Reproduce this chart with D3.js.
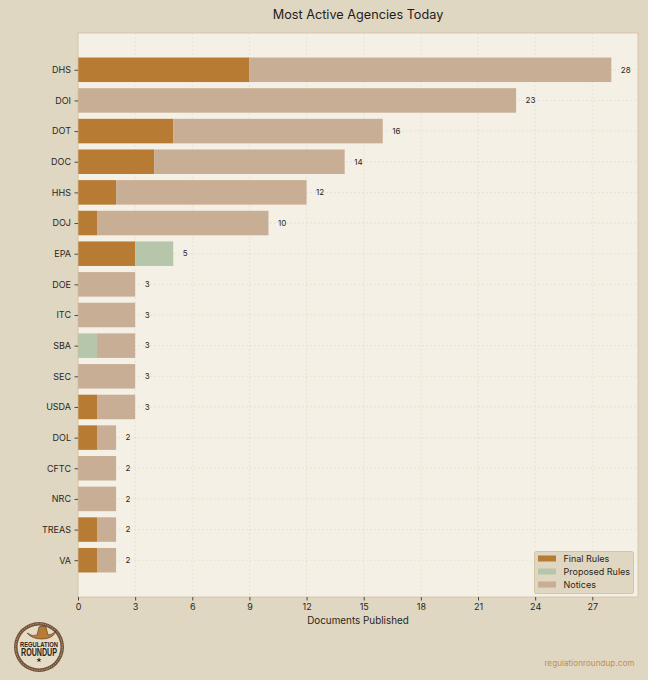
<!DOCTYPE html>
<html>
<head>
<meta charset="utf-8">
<script src="https://cdnjs.cloudflare.com/ajax/libs/d3/7.8.5/d3.min.js"></script>
<style>
  html, body { margin: 0; padding: 0; background: #dfd7c2; }
  svg { display: block; }
  text { font-family: Inter, "Noto Sans", sans-serif; }
</style>
</head>
<body>
<script>
  const agencies = ["DHS","DOI","DOT","DOC","HHS","DOJ","EPA","DOE","ITC","SBA","SEC","USDA","DOL","CFTC","NRC","TREAS","VA"];
  const finalRules = [9,0,5,4,2,1,3,0,0,0,0,1,1,0,0,1,1];
  const proposedRules = [0,0,0,0,0,0,2,0,0,1,0,0,0,0,0,0,0];
  const notices = [19,23,11,10,10,9,0,3,3,2,3,2,1,2,2,1,1];
  const xTicks = [0,3,6,9,12,15,18,21,24,27];
  const seriesNames = ["Final Rules","Proposed Rules","Notices"];

  const width = 648, height = 680;
  const plotL = 78, plotR = 638, plotT = 33, plotB = 597;
  const bg = "#dfd7c2", ink = "#2b2620";
  const colors = {"Final Rules":"#b87b33","Proposed Rules":"#b6c6ab","Notices":"#c8ae94"};

  let svg = d3.select("body").append("svg")
    .attr("width",width).attr("height",height);
  svg.append("rect").attr("width",width).attr("height",height).style("fill",bg);

  let x = d3.scaleLinear().domain([0,29.4]).range([plotL,plotR]);
  let y = d3.scaleLinear().domain([-1.2,17.2]).range([plotT,plotB]);
  let barH = y(0.4)-y(-0.4);

  // plot panel
  svg.append("rect")
    .attr("x",plotL).attr("y",plotT)
    .attr("width",plotR-plotL).attr("height",plotB-plotT)
    .style("fill","#f5f0e6");

  // grid
  let grid = svg.append("g").attr("stroke","#e3dbcb").attr("stroke-width",0.7).attr("stroke-dasharray","2,2");
  grid.selectAll(".gx").data(xTicks).enter().append("line")
    .attr("x1",d=>x(d)).attr("x2",d=>x(d)).attr("y1",plotT).attr("y2",plotB);
  grid.selectAll(".gy").data(agencies).enter().append("line")
    .attr("x1",plotL).attr("x2",plotR)
    .attr("y1",(d,i)=>y(i)).attr("y2",(d,i)=>y(i));

  // stacked bars
  let rows = agencies.map((a,i)=>({i:i,values:[finalRules[i],proposedRules[i],notices[i]]}));
  rows.forEach(function(row){
    let start = 0;
    row.values.forEach(function(v,k){
      if (v > 0) {
        svg.append("rect")
          .attr("x",x(start)).attr("y",y(row.i)-barH/2)
          .attr("width",x(start+v)-x(start)).attr("height",barH)
          .style("fill",colors[seriesNames[k]]);
      }
      start += v;
    });
    svg.append("text")
      .attr("x",x(start+0.5)).attr("y",y(row.i))
      .attr("dy","0.35em")
      .style("font-size","8px").style("fill",ink)
      .text(start);
  });

  // panel border
  svg.append("rect")
    .attr("x",plotL).attr("y",plotT)
    .attr("width",plotR-plotL).attr("height",plotB-plotT)
    .style("fill","none").style("stroke","#d3bf9f").style("stroke-width",0.8);

  // axes
  let xAxis = svg.append("g").attr("transform","translate(0,"+plotB+")")
    .call(d3.axisBottom(x).tickValues(xTicks).tickSize(3.5).tickPadding(3.5));
  let yAxis = svg.append("g").attr("transform","translate("+plotL+",0)")
    .call(d3.axisLeft(y).tickValues(d3.range(agencies.length)).tickFormat(i=>agencies[i]).tickSize(3.5).tickPadding(3.5));
  [xAxis,yAxis].forEach(function(a){
    a.select(".domain").remove();
    a.selectAll("line").style("stroke",ink).style("stroke-width",0.8);
    a.selectAll("text").style("font-size","9px").style("font-family","Inter").style("fill",ink);
  });

  svg.append("text")
    .attr("x",358).attr("y",19).attr("text-anchor","middle")
    .style("font-size","12.7px").style("fill","#1f1c18")
    .text("Most Active Agencies Today");
  svg.append("text")
    .attr("x",358).attr("y",624).attr("text-anchor","middle")
    .style("font-size","9.9px").style("fill",ink)
    .text("Documents Published");
  svg.append("text")
    .attr("x",634.5).attr("y",665.5).attr("text-anchor","end")
    .style("font-size","8.2px").style("fill","#c08f4e")
    .text("regulationroundup.com");

  // legend
  let legend = svg.append("g");
  legend.append("rect")
    .attr("x",534.5).attr("y",551.5).attr("width",99).attr("height",42).attr("rx",2)
    .style("fill","#dfd7c2").style("stroke","#cdbd9c").style("stroke-width",0.8);
  seriesNames.forEach(function(name,i){
    let ly = 558.5+i*13;
    legend.append("rect")
      .attr("x",538).attr("y",ly-3).attr("width",18).attr("height",6)
      .style("fill",colors[name]);
    legend.append("text")
      .attr("x",563.5).attr("y",ly).attr("dy","0.35em")
      .style("font-size","9px").style("fill",ink)
      .text(name);
  });

  // logo badge
  let logo = svg.append("g").attr("transform","translate(39,647)");
  logo.append("circle").attr("r",25).style("fill","#6f5038");
  logo.append("circle").attr("r",23.3).style("fill","none").style("stroke","#c9b899").style("stroke-width",0.8).style("stroke-dasharray","1.5,1");
  logo.append("circle").attr("r",21.5).style("fill","#e6dcc6");
  logo.append("path")
    .attr("d","M-12,-14 Q-6,-10 -2,-12 L0,-20 Q3,-22 7,-20 L9,-12 Q13,-12 17,-16 Q14,-8 3,-8 Q-7,-8 -12,-14 Z")
    .style("fill","#b87b33").style("stroke","#4a3524").style("stroke-width",0.6);
  logo.append("text")
    .attr("y",0).attr("text-anchor","middle")
    .attr("textLength",38).attr("lengthAdjust","spacingAndGlyphs")
    .style("font-size","6.5px").style("font-weight","700").style("fill","#2a211a")
    .style("font-family","'Liberation Sans'")
    .text("REGULATION");
  logo.append("text")
    .attr("y",9).attr("text-anchor","middle")
    .attr("textLength",36).attr("lengthAdjust","spacingAndGlyphs")
    .style("font-size","10px").style("font-weight","700").style("fill","#2a211a")
    .style("font-family","'Liberation Sans'")
    .text("ROUNDUP");
  logo.append("path")
    .attr("d",d3.symbol(d3.symbolStar,9)())
    .attr("transform","translate(0,13)")
    .style("fill","#2a211a");
</script>
</body>
</html>
